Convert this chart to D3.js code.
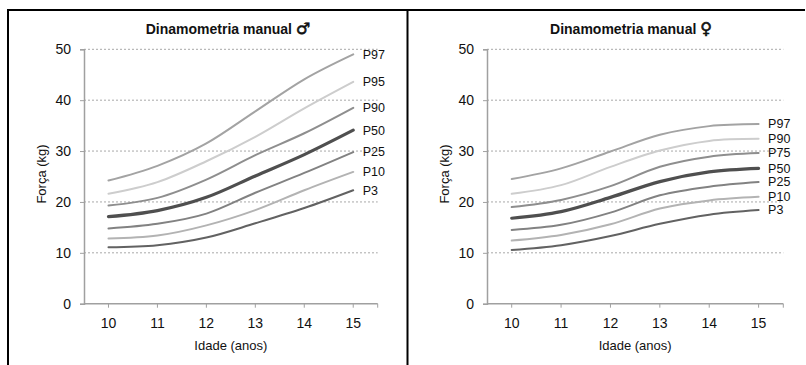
<!DOCTYPE html>
<html>
<head>
<meta charset="utf-8">
<script src="https://cdn.jsdelivr.net/npm/d3@7"></script>
<style>
  html, body { margin: 0; padding: 0; background: #fff; }
  svg { display: block; font-family: "Liberation Sans", Arial, sans-serif; }
</style>
</head>
<body>
<svg id="chart" width="806" height="365"></svg>
<script>
// Age categories and value ticks shared by both panels
const ages = [10, 11, 12, 13, 14, 15];
const forceTicks = [0, 10, 20, 30, 40, 50];

// Boys: hand-grip strength percentiles (kg)
const boysLabels = ["P97", "P95", "P90", "P50", "P25", "P10", "P3"];
const boysP97 = [24.2, 27.1, 31.5, 37.8, 44.1, 49.0];
const boysP95 = [21.6, 23.9, 28.0, 32.8, 38.4, 43.6];
const boysP90 = [19.3, 20.8, 24.4, 29.2, 33.5, 38.5];
const boysP50 = [17.1, 18.3, 20.9, 25.1, 29.3, 34.1];
const boysP25 = [14.8, 15.7, 17.7, 21.8, 25.7, 29.8];
const boysP10 = [12.8, 13.4, 15.4, 18.4, 22.3, 25.9];
const boysP3  = [11.1, 11.5, 13.0, 15.8, 18.8, 22.3];

// Girls: hand-grip strength percentiles (kg)
const girlsLabels = ["P97", "P90", "P75", "P50", "P25", "P10", "P3"];
const girlsP97 = [24.5, 26.6, 29.9, 33.2, 34.9, 35.3];
const girlsP90 = [21.6, 23.3, 26.9, 30.1, 32.0, 32.4];
const girlsP75 = [19.0, 20.4, 23.1, 26.9, 28.9, 29.6];
const girlsP50 = [16.8, 18.1, 20.9, 24.0, 25.9, 26.6];
const girlsP25 = [14.5, 15.5, 17.9, 21.3, 23.0, 23.9];
const girlsP10 = [12.4, 13.5, 15.6, 18.7, 20.3, 21.0];
const girlsP3  = [10.55, 11.5, 13.3, 15.7, 17.5, 18.4];

const svg = d3.select("#chart");

// Panel frame: top rule and vertical separators
const frame = svg.append("g").attr("stroke", "#000").attr("stroke-width", 2);
frame.append("line").attr("x1", 7).attr("x2", 805).attr("y1", 10).attr("y2", 10);
frame.append("line").attr("x1", 8).attr("x2", 8).attr("y1", 9).attr("y2", 365);
frame.append("line").attr("x1", 407.5).attr("x2", 407.5).attr("y1", 9).attr("y2", 365);

// Grey tone and stroke width per percentile
const styleOf = {
  P97: { color: "#a3a3a3", width: 2 },
  P95: { color: "#cdcdcd", width: 2 },
  P90: { color: "#8e8e8e", width: 2 },
  P75: { color: "#8e8e8e", width: 2 },
  P50: { color: "#4f4f4f", width: 3.2 },
  P25: { color: "#828282", width: 2 },
  P10: { color: "#b3b3b3", width: 2 },
  P3:  { color: "#626262", width: 2 }
};
const girlsStyle = Object.assign({}, styleOf, { P90: { color: "#cdcdcd", width: 2 } });

function drawPanel(opt) {
  const g = svg.append("g");
  const x = d3.scaleBand().domain(ages).range([opt.left, opt.right]);
  const y = d3.scaleLinear().domain([0, 50]).range([303.7, 49.3]);
  const cx = d => x(d) + x.bandwidth() / 2;

  // Title with a bold sex symbol
  const title = g.append("text")
    .attr("x", opt.titleX).attr("y", 34)
    .attr("text-anchor", "middle")
    .attr("font-weight", "bold").attr("font-size", 14)
    .attr("fill", "#111");
  title.append("tspan").text("Dinamometria manual ");
  title.append("tspan")
    .attr("font-family", "DejaVu Sans").attr("font-size", 16)
    .attr("stroke", "#111").attr("stroke-width", 0.6)
    .text(opt.symbol);

  // Dotted horizontal gridlines
  g.append("g").selectAll("line")
    .data(forceTicks.filter(t => t > 0))
    .join("line")
    .attr("x1", opt.left).attr("x2", opt.right)
    .attr("y1", d => y(d)).attr("y2", d => y(d))
    .attr("stroke", "#a8a8a8").attr("stroke-width", 1)
    .attr("stroke-dasharray", "2,2");

  // Y axis
  const yAxis = g.append("g")
    .attr("transform", `translate(${opt.left},0)`)
    .call(d3.axisLeft(y).tickValues(forceTicks).tickSize(4).tickPadding(9));
  yAxis.select(".domain").attr("stroke", "#a0a0a0").attr("stroke-width", 1.5);
  yAxis.selectAll(".tick line").attr("stroke", "#a0a0a0");
  yAxis.selectAll(".tick text").attr("font-size", 14).attr("fill", "#111")
    .attr("font-family", "Liberation Sans, Arial, sans-serif");

  // X axis: ticks at category centres plus the closing tick
  const xAxis = g.append("g").attr("transform", "translate(0,303.7)");
  xAxis.append("line")
    .attr("x1", opt.left).attr("x2", opt.right)
    .attr("stroke", "#a0a0a0").attr("stroke-width", 1.5);
  xAxis.selectAll("line.tk")
    .data(ages.map(cx).concat([opt.right]))
    .join("line").attr("class", "tk")
    .attr("x1", d => d).attr("x2", d => d)
    .attr("y1", 0).attr("y2", 4)
    .attr("stroke", "#a0a0a0").attr("stroke-width", 1);
  xAxis.selectAll("text")
    .data(ages)
    .join("text")
    .attr("x", cx).attr("y", 24.5)
    .attr("text-anchor", "middle")
    .attr("font-size", 14).attr("fill", "#111")
    .text(d => d);

  // Axis titles
  g.append("text")
    .attr("x", (opt.left + opt.right) / 2).attr("y", 350)
    .attr("text-anchor", "middle").attr("font-size", 13).attr("fill", "#111")
    .text("Idade (anos)");
  g.append("text")
    .attr("transform", `translate(${opt.left - 38},174) rotate(-90)`)
    .attr("text-anchor", "middle").attr("font-size", 13).attr("fill", "#111")
    .text("Força (kg)");

  // Percentile curves (smoothed)
  const line = d3.line()
    .x((d, i) => cx(ages[i]))
    .y(d => y(d))
    .curve(d3.curveCardinal.tension(0));

  opt.labels.forEach((name, k) => {
    const vals = opt.series[k];
    const st = opt.styles[name];
    g.append("path")
      .datum(vals)
      .attr("d", line)
      .attr("fill", "none")
      .attr("stroke", st.color)
      .attr("stroke-width", st.width)
      .attr("stroke-linecap", "round");
    g.append("text")
      .attr("x", cx(ages[ages.length - 1]) + 9.5)
      .attr("y", y(vals[vals.length - 1]))
      .attr("dy", "0.35em")
      .attr("font-size", 12.5).attr("fill", "#111")
      .text(name);
  });
}

drawPanel({
  left: 84, right: 377.7, titleX: 228,
  symbol: "\u2642",
  labels: boysLabels,
  series: [boysP97, boysP95, boysP90, boysP50, boysP25, boysP10, boysP3],
  styles: styleOf
});

drawPanel({
  left: 487, right: 783.3, titleX: 631,
  symbol: "\u2640",
  labels: girlsLabels,
  series: [girlsP97, girlsP90, girlsP75, girlsP50, girlsP25, girlsP10, girlsP3],
  styles: girlsStyle
});
</script>
</body>
</html>
